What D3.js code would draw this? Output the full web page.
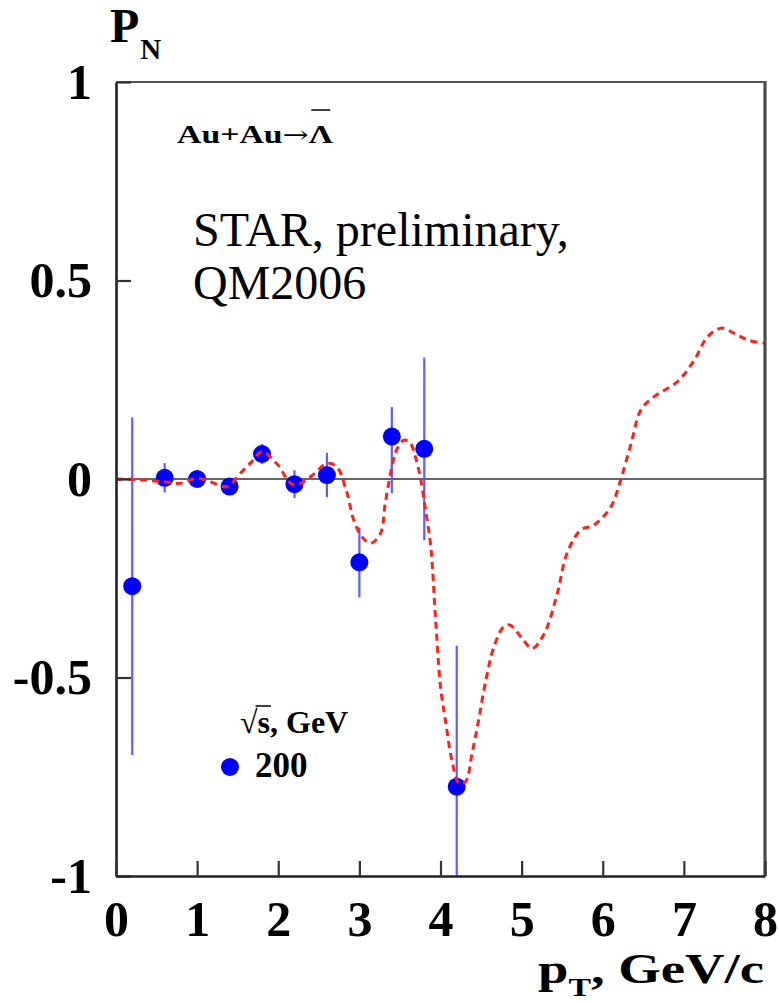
<!DOCTYPE html>
<html>
<head>
<meta charset="utf-8">
<script src="https://cdn.jsdelivr.net/npm/d3@7"></script>
<style>
  html, body { margin: 0; padding: 0; background: #fff; }
  svg { display: block; }
  text { font-family: "Liberation Serif", "Times New Roman", serif; }
</style>
</head>
<body>
<svg id="chart" width="779" height="1003"></svg>
<script>
// Measured polarization P_N of anti-Lambda in Au+Au at sqrt(s) = 200 GeV
const ptValues   = [0.2, 0.6, 1.0, 1.4, 1.8, 2.2, 2.6, 3.0, 3.4, 3.8, 4.2];
const pnValues   = [-0.27, 0.003, 0.0, -0.019, 0.063, -0.013, 0.01, -0.21, 0.107, 0.076, -0.775];
const errLow     = [0.425, 0.037, 0.015, 0.015, 0.025, 0.035, 0.056, 0.088, 0.143, 0.23, 0.355];
const errHigh    = [0.425, 0.037, 0.015, 0.015, 0.025, 0.035, 0.056, 0.088, 0.074, 0.23, 0.355];

// Model curve (dashed)
const curvePt = [0.0, 0.3, 0.58, 0.79, 1.0, 1.16, 1.37, 1.53, 1.68, 1.80, 1.98, 2.19, 2.40, 2.60, 2.72,
  2.84, 2.93, 3.03, 3.14, 3.26, 3.32, 3.42, 3.47, 3.55, 3.63, 3.69, 3.75, 3.81, 3.88, 3.94, 4.0, 4.06,
  4.14, 4.23, 4.31, 4.39, 4.47, 4.56, 4.66, 4.78, 4.86, 5.0, 5.13, 5.28, 5.44, 5.56, 5.73, 5.89, 6.10,
  6.22, 6.35, 6.47, 6.63, 6.92, 7.13, 7.29, 7.46, 7.62, 7.79, 8.0];
const curvePn = [0.0, -0.002, -0.007, -0.011, 0.002, -0.007, -0.019, 0.014, 0.045, 0.069, 0.039, -0.015,
  0.006, 0.039, 0.031, -0.03, -0.103, -0.145, -0.162, -0.137, -0.06, 0.048, 0.078, 0.098, 0.09, 0.056,
  0.006, -0.07, -0.17, -0.355, -0.523, -0.607, -0.708, -0.767, -0.762, -0.69, -0.607, -0.506, -0.422,
  -0.372, -0.368, -0.40, -0.427, -0.389, -0.288, -0.187, -0.128, -0.116, -0.07, -0.003, 0.09, 0.174,
  0.207, 0.245, 0.3, 0.358, 0.38, 0.367, 0.35, 0.342];

const xTicks = [0, 1, 2, 3, 4, 5, 6, 7, 8];
const yTicks = [-1, -0.5, 0, 0.5, 1];
const yTickLabels = ["-1", "-0.5", "0", "0.5", "1"];
const legendTitle = "s, GeV";
const legendLabel = "200";

const svg = d3.select("#chart");
const L = 116, R = 765, T = 82, B = 876;

const x = d3.scaleLinear().domain([0, 8]).range([L, R]);
const y = d3.scaleLinear().domain([-1, 1]).range([B, T]);

svg.append("defs").append("clipPath").attr("id", "plotClip")
  .append("rect").attr("x", L).attr("y", T).attr("width", R - L).attr("height", B - T);

const plot = svg.append("g").attr("clip-path", "url(#plotClip)");

// zero line
plot.append("line")
  .attr("x1", x(0)).attr("x2", x(8)).attr("y1", y(0)).attr("y2", y(0))
  .attr("stroke", "#666").attr("stroke-width", 2.2);

// error bars
const idx = d3.range(ptValues.length);
plot.selectAll("line.err").data(idx).join("line")
  .attr("class", "err")
  .attr("x1", i => x(ptValues[i])).attr("x2", i => x(ptValues[i]))
  .attr("y1", i => y(pnValues[i] - errLow[i]))
  .attr("y2", i => y(pnValues[i] + errHigh[i]))
  .attr("stroke", "#5d5dff").attr("stroke-width", 2.2);

// markers
plot.selectAll("circle.pt").data(idx).join("circle")
  .attr("class", "pt")
  .attr("cx", i => x(ptValues[i])).attr("cy", i => y(pnValues[i]))
  .attr("r", 9).attr("fill", "#0000ff");

// dashed model curve
const line = d3.line()
  .x((d, i) => x(curvePt[i]))
  .y((d, i) => y(curvePn[i]))
  .curve(d3.curveCatmullRom.alpha(0.5));
plot.append("path")
  .attr("d", line(curvePt))
  .attr("fill", "none")
  .attr("stroke", "#ff1f1f")
  .attr("stroke-width", 3)
  .attr("stroke-dasharray", "7,5");

// frame: top and right
svg.append("line").attr("x1", L).attr("x2", R).attr("y1", T).attr("y2", T)
  .attr("stroke", "#555").attr("stroke-width", 2.2);
svg.append("line").attr("x1", R).attr("x2", R).attr("y1", T - 1).attr("y2", B)
  .attr("stroke", "#4a4a4a").attr("stroke-width", 3.2);

// axes
const yAxis = d3.axisLeft(y).tickValues(yTicks)
  .tickFormat((d, i) => yTickLabels[i])
  .tickSizeInner(-15).tickSizeOuter(0).tickPadding(24);
const gy = svg.append("g").attr("transform", `translate(${L},0)`).call(yAxis);

const xAxis = d3.axisBottom(x).tickValues(xTicks)
  .tickFormat(d3.format("d"))
  .tickSizeInner(-15).tickSizeOuter(0).tickPadding(24);
const gx = svg.append("g").attr("transform", `translate(0,${B})`).call(xAxis);

[gx, gy].forEach(g => {
  g.select(".domain").attr("stroke", "#222").attr("stroke-width", 2.6);
  g.selectAll(".tick line").attr("stroke", "#333").attr("stroke-width", 2.2);
  g.selectAll(".tick text")
    .attr("font-family", "Liberation Serif, serif")
    .attr("font-weight", "bold")
    .attr("font-size", 50)
    .attr("fill", "#000");
});

// stretch a text element horizontally to a given width, anchored at its left edge
function fitWidth(sel, x0, width) {
  const w = sel.node().getComputedTextLength();
  sel.attr("transform", `translate(${x0},0) scale(${width / w},1) translate(${-x0},0)`);
}

// y-axis title
const yt = svg.append("text").attr("x", 110).attr("y", 42)
  .attr("font-weight", "bold").attr("font-size", 48);
yt.append("tspan").text("P");
yt.append("tspan").attr("font-size", 29).attr("dy", 17).attr("dx", 1).text("N");

// x-axis title
const xt = svg.append("text").attr("x", 538).attr("y", 983)
  .attr("font-weight", "bold").attr("font-size", 42);
xt.append("tspan").text("p");
xt.append("tspan").attr("font-size", 26).attr("dy", 13).text("T");
xt.append("tspan").attr("dy", -13).text(", GeV/c");
fitWidth(xt, 538, 226);

// reaction label
const rl = svg.append("text").attr("x", 177).attr("y", 143)
  .attr("font-weight", "bold").attr("font-size", 26);
rl.append("tspan").text("Au+Au");
rl.append("tspan").attr("font-weight", "normal").attr("font-family", "DejaVu Serif, serif")
  .attr("font-size", 24).text("\u2192");
rl.append("tspan").text("\u039B");
fitWidth(rl, 177, 156);
{
  const n = rl.node();
  const k = n.getNumberOfChars() - 1;
  const ext = n.getExtentOfChar(k);
  // overbar above the Lambda, in the same (stretched) frame
  svg.append("line")
    .attr("x1", ext.x + 2).attr("x2", ext.x + ext.width - 2)
    .attr("y1", 110).attr("y2", 110)
    .attr("transform", rl.attr("transform"))
    .attr("stroke", "#111").attr("stroke-width", 1.6);
}

// experiment annotation
svg.append("text").attr("x", 193).attr("y", 246).attr("font-size", 48)
  .text("STAR, preliminary,");
svg.append("text").attr("x", 193).attr("y", 299).attr("font-size", 48)
  .text("QM2006");

// legend
const lt = svg.append("text").attr("x", 240).attr("y", 733)
  .attr("font-weight", "bold").attr("font-size", 32);
lt.append("tspan").attr("font-weight", "normal").text("\u221A");
lt.append("tspan").text(legendTitle);
{
  const n = lt.node();
  const a = n.getExtentOfChar(0);
  const b = n.getExtentOfChar(1);
  svg.append("line")
    .attr("x1", a.x + a.width - 2).attr("x2", b.x + b.width + 1)
    .attr("y1", a.y + 2).attr("y2", a.y + 2)
    .attr("stroke", "#111").attr("stroke-width", 1.6);
}
svg.append("circle").attr("cx", 230).attr("cy", 767).attr("r", 9).attr("fill", "#0000ff");
svg.append("text").attr("x", 255).attr("y", 777)
  .attr("font-weight", "bold").attr("font-size", 35).text(legendLabel);
</script>
</body>
</html>
